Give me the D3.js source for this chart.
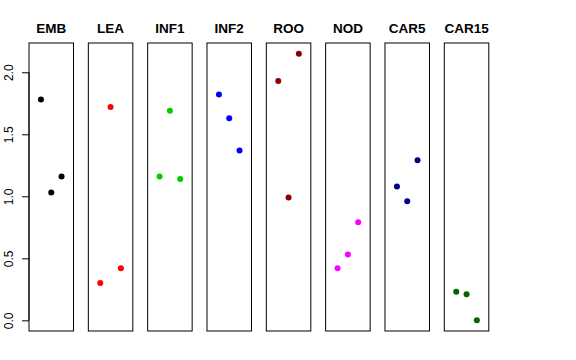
<!DOCTYPE html>
<html>
<head>
<meta charset="utf-8">
<script src="https://cdn.jsdelivr.net/npm/d3@7"></script>
<style>
  body { margin: 0; background: #fff; }
  svg { display: block; }
</style>
</head>
<body>
<svg id="chart" width="576" height="360"></svg>
<script>
// panel names, colours and the three values shown in each panel
var panels = ['EMB', 'LEA', 'INF1', 'INF2', 'ROO', 'NOD', 'CAR5', 'CAR15'];
var colors = ['#000000', '#ff0000', '#00cd00', '#0000ff', '#8b0000', '#ff00ff', '#00008b', '#006400'];
var values = [
    [1.78, 1.03, 1.16],
    [0.30, 1.72, 0.42],
    [1.16, 1.69, 1.14],
    [1.82, 1.63, 1.37],
    [1.93, 0.99, 2.15],
    [0.42, 0.53, 0.79],
    [1.08, 0.96, 1.29],
    [0.23, 0.21, 0.00]
];
var positions = [1, 2, 3];
var yTicks = [0, 0.5, 1, 1.5, 2];

var svg = d3.select('#chart');

var plotTop = 43, plotBottom = 331, plotLeft = 29, plotRight = 488.8;

var panelScale = d3.scaleBand()
    .domain(panels)
    .range([plotLeft, plotRight])
    .paddingInner(0.25)
    .paddingOuter(0);

var bw = panelScale.bandwidth();

var x = d3.scaleLinear().domain([-0.16, 4.16]).range([0, bw]);
var y = d3.scaleLinear().domain([-0.086, 2.236]).range([plotBottom, plotTop]);

// y axis on the first panel
var yAxis = d3.axisLeft(y)
    .tickValues(yTicks)
    .tickSize(7)
    .tickFormat(d3.format('.1f'));

var ag = svg.append('g')
    .attr('transform', 'translate(' + plotLeft + ',0)')
    .call(yAxis);
ag.select('.domain')
    .attr('d', 'M0,' + y(0) + 'V' + y(2))
    .attr('stroke', '#000');
ag.selectAll('.tick line').attr('stroke', '#000');
ag.selectAll('.tick text')
    .attr('x', null)
    .attr('dy', null)
    .attr('transform', 'translate(-19,0) rotate(-90)')
    .attr('text-anchor', 'middle')
    .attr('dominant-baseline', 'middle')
    .attr('font-family', 'Liberation Sans, Arial, sans-serif')
    .attr('font-size', 12)
    .attr('fill', '#000');

panels.forEach(function (name, i) {
    var g = svg.append('g')
        .attr('transform', 'translate(' + panelScale(name) + ',0)');

    g.append('rect')
        .attr('x', 0)
        .attr('y', plotTop)
        .attr('width', bw)
        .attr('height', plotBottom - plotTop)
        .attr('fill', 'none')
        .attr('stroke', '#000')
        .attr('stroke-width', 1);

    g.append('text')
        .attr('x', bw / 2)
        .attr('y', 33)
        .attr('text-anchor', 'middle')
        .attr('font-family', 'Liberation Sans, Arial, sans-serif')
        .attr('font-weight', 'bold')
        .attr('font-size', 13.5)
        .text(name);

    g.selectAll('circle')
        .data(values[i])
        .enter()
        .append('circle')
        .attr('cx', function (d, j) { return x(positions[j]); })
        .attr('cy', function (d) { return y(d); })
        .attr('r', 3)
        .attr('fill', colors[i]);
});
</script>
</body>
</html>
